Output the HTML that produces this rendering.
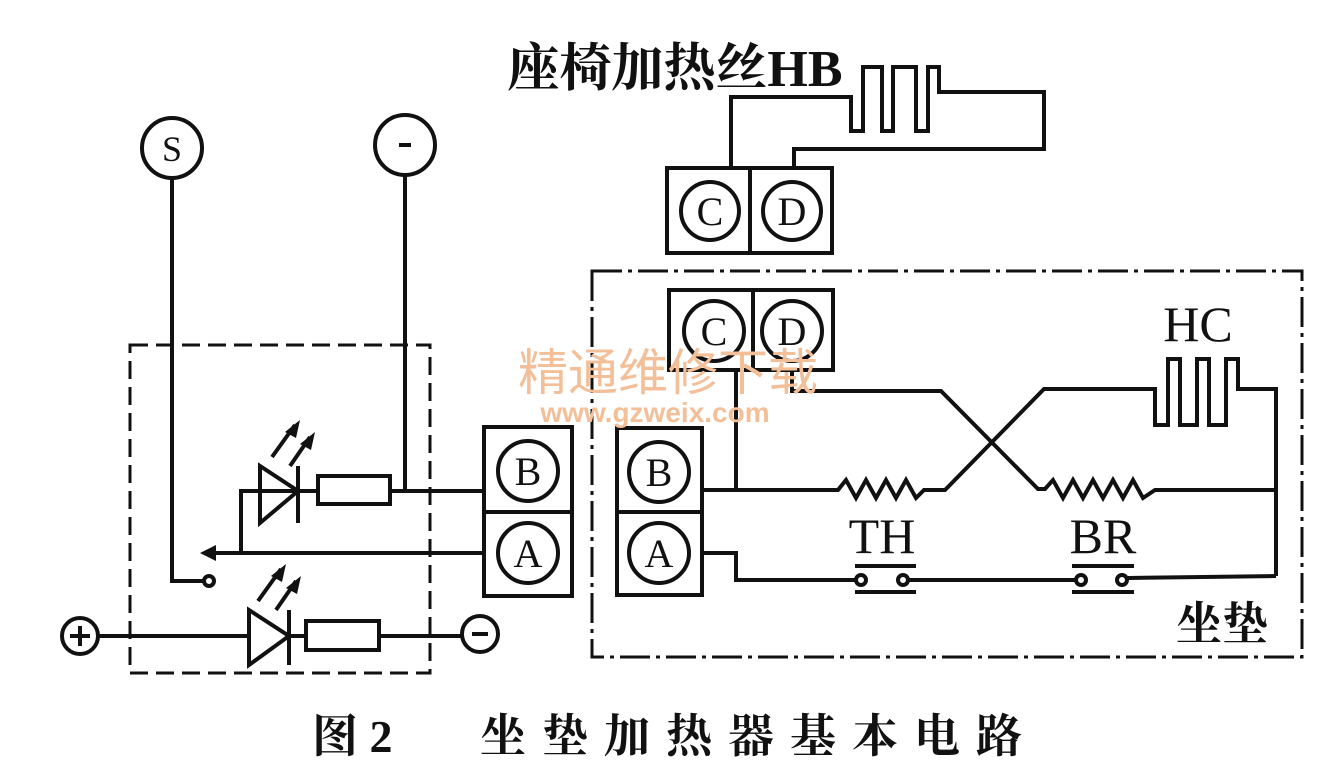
<!DOCTYPE html>
<html><head><meta charset="utf-8"><style>
html,body{margin:0;padding:0;background:#fff;}
svg{display:block;}
</style></head><body>
<svg width="1335" height="769" viewBox="0 0 1335 769" xmlns="http://www.w3.org/2000/svg">
<rect width="1335" height="769" fill="#fff"/>
<g fill="none" stroke="#111" stroke-width="4">
<rect x="667" y="168" width="165" height="85"/>
<line x1="750" y1="168" x2="750" y2="253"/>
<circle cx="710" cy="211" r="29"/><circle cx="792" cy="211" r="29"/>
<polyline points="731,168 731,97 851,97 851,131 863,131 863,67 882,67 882,131 893,131 893,67 916,67 916,131 928,131 928,67 939,67 939,92 1044,92 1044,149 794,149 794,168"/>
<rect x="592" y="271" width="710" height="386" stroke-dasharray="30,6,4,6" stroke-width="3"/>
<rect x="669" y="290" width="164" height="80"/>
<line x1="753" y1="290" x2="753" y2="370"/>
<circle cx="714" cy="331" r="30"/><circle cx="792" cy="331" r="30"/>
<rect x="617" y="428" width="85" height="167"/>
<line x1="617" y1="512" x2="702" y2="512"/>
<circle cx="659" cy="472" r="30"/><circle cx="659" cy="553" r="30"/>
<line x1="736" y1="370" x2="736" y2="490"/>
<polyline points="702,490 838,490 846,480 856,498 866,480 876,498 886,480 896,498 906,480 916,498 924,490 945,490 1044,389 1155,389 1155,425 1168,425 1168,359 1180,359 1180,425 1197,425 1197,359 1209,359 1209,425 1226,425 1226,359 1238,359 1238,389 1276,389 1276,576"/>
<polyline points="792,370 792,391 941,391 1038,489 1045,489 1053,480 1063,498 1073,480 1083,498 1093,480 1103,498 1113,480 1123,498 1133,480 1143,498 1155,490 1276,490"/>
<polyline points="702,553 736,553 736,580 855,580"/>
<circle cx="861" cy="580" r="5"/><circle cx="903" cy="580" r="5"/>
<line x1="855" y1="566" x2="916" y2="566"/><line x1="855" y1="592" x2="916" y2="592"/>
<line x1="908" y1="580" x2="1075" y2="580"/>
<circle cx="1081" cy="580" r="5"/><circle cx="1122" cy="580" r="5"/>
<line x1="1072" y1="566" x2="1134" y2="566"/><line x1="1072" y1="592" x2="1134" y2="592"/>
<line x1="1128" y1="578" x2="1276" y2="576"/>
<rect x="130" y="345" width="300" height="328" stroke-dasharray="18,8" stroke-width="3"/>
<circle cx="172" cy="148" r="30"/>
<circle cx="405" cy="145" r="30"/>
<polyline points="172,178 172,581 204,581"/>
<circle cx="209" cy="581" r="5"/>
<line x1="405" y1="175" x2="405" y2="491"/>
<polyline points="241,553 241,491 298,491"/>
<polygon points="260,466 260,523 298,491"/>
<line x1="298" y1="466" x2="298" y2="523"/>
<line x1="298" y1="491" x2="318" y2="491"/>
<rect x="318" y="476" width="72" height="28"/>
<line x1="390" y1="491" x2="484" y2="491"/>
<line x1="484" y1="553" x2="210" y2="553"/>
<rect x="484" y="427" width="88" height="169"/>
<line x1="484" y1="512" x2="572" y2="512"/>
<circle cx="528" cy="471" r="30"/><circle cx="528" cy="553" r="30"/>
<circle cx="80" cy="636" r="18"/>
<line x1="98" y1="636" x2="249" y2="636"/>
<polygon points="249,610 249,665 289,636"/>
<line x1="289" y1="610" x2="289" y2="665"/>
<line x1="289" y1="636" x2="306" y2="636"/>
<rect x="306" y="621" width="73" height="29"/>
<line x1="379" y1="636" x2="462" y2="636"/>
<circle cx="480" cy="634" r="18"/>
<line x1="272" y1="457" x2="295" y2="425"/><line x1="290" y1="466" x2="310" y2="437"/>
<line x1="258" y1="601" x2="281" y2="569"/><line x1="276" y1="610" x2="296" y2="581"/>
<line x1="80" y1="626" x2="80" y2="646"/><line x1="70" y1="636" x2="90" y2="636"/>
<line x1="472" y1="634" x2="488" y2="634"/>
<line x1="399" y1="145" x2="411" y2="145"/>
</g>
<g fill="#111">
<polygon points="200,553 216,545 216,561"/>
<polygon points="300,420 285,432 296,438"/>
<polygon points="315,432 300,444 311,450"/>
<polygon points="286,564 271,576 282,582"/>
<polygon points="301,576 286,588 297,594"/>
</g>
<g font-family="Liberation Serif, 'Noto Serif CJK SC', serif" fill="#111" text-anchor="middle">
<text x="172" y="161" font-size="36">S</text>
<text x="710" y="225" font-size="40">C</text>
<text x="792" y="225" font-size="40">D</text>
<text x="714" y="345" font-size="40">C</text>
<text x="792" y="345" font-size="40">D</text>
<text x="659" y="486" font-size="40">B</text>
<text x="659" y="567" font-size="40">A</text>
<text x="528" y="485" font-size="40">B</text>
<text x="528" y="567" font-size="40">A</text>
<text x="882" y="553" font-size="50">TH</text>
<text x="1103" y="553" font-size="50">BR</text>
<text x="1198" y="341" font-size="50">HC</text>
<text x="1222" y="640" font-size="46" font-weight="bold" font-family="'Noto Serif CJK SC', serif">坐垫</text>
<text x="675" y="86" font-size="52" font-weight="bold" font-family="Liberation Serif, 'Noto Serif CJK SC', serif">座椅加热丝HB</text>
</g>
<g fill="#f3bf98" font-family="'Noto Sans CJK SC', sans-serif" text-anchor="middle">
<text x="668" y="390" font-size="50">精通维修下载</text>
<text x="655" y="422" font-size="28" font-weight="bold" font-family="Liberation Sans, sans-serif">www.gzweix.com</text>
</g>
<g font-size="46" font-weight="bold" fill="#111" font-family="Liberation Serif, 'Noto Serif CJK SC', serif">
<text x="312" y="752">图 2</text>
<text x="480" y="752" letter-spacing="16">坐垫加热器基本电路</text>
</g>
</svg>
</body></html>
